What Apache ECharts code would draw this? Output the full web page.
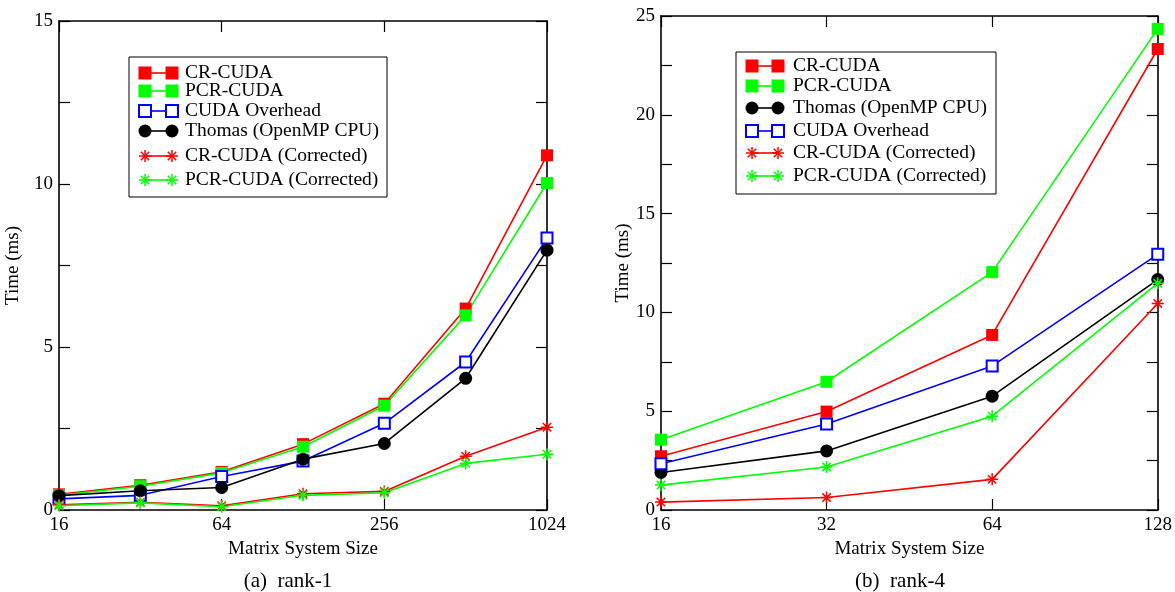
<!DOCTYPE html>
<html>
<head>
<meta charset="utf-8">
<script src="https://cdn.jsdelivr.net/npm/echarts@6/dist/echarts.min.js"></script>
<style>
  html, body { margin: 0; padding: 0; background: #fff; }
  #chart { width: 1175px; height: 592px; }
</style>
</head>
<body>
<div id="chart"></div>
<script>
// rank-1 data
var sizes1 = [16, 32, 64, 128, 256, 512, 1024];
var crCuda1 = [0.48, 0.76, 1.17, 2.02, 3.26, 6.18, 10.88];
var pcrCuda1 = [0.45, 0.73, 1.14, 1.94, 3.2, 5.97, 10.03];
var overhead1 = [0.34, 0.45, 1.03, 1.5, 2.66, 4.54, 8.34];
var thomas1 = [0.44, 0.59, 0.69, 1.56, 2.04, 4.04, 7.97];
var crCorr1 = [0.16, 0.24, 0.13, 0.5, 0.57, 1.65, 2.54];
var pcrCorr1 = [0.13, 0.22, 0.1, 0.45, 0.53, 1.43, 1.71];
var xTicks1 = [16, 64, 256, 1024];

// rank-4 data
var sizes4 = [16, 32, 64, 128];
var crCuda4 = [2.72, 4.98, 8.86, 23.33];
var pcrCuda4 = [3.56, 6.49, 12.04, 24.35];
var thomas4 = [1.9, 2.99, 5.76, 11.66];
var overhead4 = [2.34, 4.35, 7.29, 12.94];
var crCorr4 = [0.4, 0.63, 1.55, 10.45];
var pcrCorr4 = [1.26, 2.18, 4.75, 11.47];
var xTicks4 = [16, 32, 64, 128];

var FONT = '"Liberation Serif", "DejaVu Serif", serif';
var STAR = 'path://M0,-10L0,10M-10,0L10,0M-7,-7L7,7M-7,7L7,-7';

var styles = {
    cr: { color: '#ff0000', kind: 'square' },
    pcr: { color: '#00ff00', kind: 'square' },
    overhead: { color: '#0000ff', kind: 'empty' },
    thomas: { color: '#000000', kind: 'circle' },
    crCorr: { color: '#ff0000', kind: 'star' },
    pcrCorr: { color: '#00ff00', kind: 'star' }
};

function mkSeries(name, xs, ys, st, idx) {
    var s = {
        name: name,
        type: 'line',
        xAxisIndex: idx * 2,
        yAxisIndex: idx * 2,
        data: xs.map(function (x, i) { return [x, ys[i]]; }),
        lineStyle: { color: st.color, width: 1.6 },
        emphasis: { disabled: true },
        clip: false,
        animation: false
    };
    if (st.kind == 'square') {
        s.symbol = 'rect';
        s.symbolSize = 12;
        s.itemStyle = { color: st.color, borderWidth: 0 };
    } else if (st.kind == 'empty') {
        s.symbol = 'rect';
        s.symbolSize = 11;
        s.itemStyle = { color: '#fff', borderColor: st.color, borderWidth: 2 };
    } else if (st.kind == 'circle') {
        s.symbol = 'circle';
        s.symbolSize = 13;
        s.itemStyle = { color: st.color, borderWidth: 0 };
    } else {
        s.symbol = STAR;
        s.symbolSize = 12;
        s.itemStyle = { color: st.color, borderColor: st.color, borderWidth: 1.5 };
    }
    return s;
}

var axisLine = { show: true, onZero: false, lineStyle: { color: '#000', width: 1.6 } };
var tick = { show: true, inside: true, length: 11, lineStyle: { color: '#000', width: 1.2 } };

function xAxes(grid, max, ticks) {
    var base = {
        type: 'log', logBase: 2, min: 16, max: max, gridIndex: grid,
        axisLine: axisLine, splitLine: { show: false },
        axisTick: Object.assign({ customValues: ticks }, tick)
    };
    return [
        Object.assign({}, base, {
            position: 'bottom',
            name: 'Matrix System Size', nameLocation: 'middle', nameGap: 26,
            nameTextStyle: { fontFamily: FONT, fontSize: 19, color: '#000' },
            axisLabel: {
                customValues: ticks, fontFamily: FONT, fontSize: 19, color: '#000', margin: 6,
                formatter: function (v) { return String(v); }
            }
        }),
        Object.assign({}, base, { position: 'top', axisLabel: { show: false } })
    ];
}

function yAxes(grid, max, gap) {
    var base = {
        type: 'value', min: 0, max: max, interval: 5, gridIndex: grid,
        axisLine: axisLine, splitLine: { show: false }, axisTick: tick,
        minorTick: { show: true, splitNumber: 2, length: 11, lineStyle: { color: '#000', width: 1.2 } }
    };
    return [
        Object.assign({}, base, {
            position: 'left',
            name: 'Time (ms)', nameLocation: 'middle', nameGap: gap,
            nameTextStyle: { fontFamily: FONT, fontSize: 19, color: '#000' },
            axisLabel: { fontFamily: FONT, fontSize: 19, color: '#000', margin: 6 }
        }),
        Object.assign({}, base, { position: 'right', axisLabel: { show: false } })
    ];
}

// legend drawn as graphic: line with a marker at each end
function legendBox(x, y, w, h, textX, lineX1, lineX2, items) {
    var els = [{
        type: 'rect', shape: { x: x, y: y, width: w, height: h },
        style: { fill: '#fff', stroke: '#000', lineWidth: 1 }, z: 100
    }];
    items.forEach(function (it) {
        var st = it.style, cy = it.y;
        els.push({ type: 'line', shape: { x1: lineX1, y1: cy, x2: lineX2, y2: cy },
            style: { stroke: st.color, lineWidth: 1.6 }, z: 101 });
        [lineX1, lineX2].forEach(function (cx) {
            if (st.kind == 'square') {
                els.push({ type: 'rect', shape: { x: cx - 6.5, y: cy - 6.5, width: 13, height: 13 },
                    style: { fill: st.color }, z: 102 });
            } else if (st.kind == 'empty') {
                els.push({ type: 'rect', shape: { x: cx - 6, y: cy - 6, width: 12, height: 12 },
                    style: { fill: '#fff', stroke: st.color, lineWidth: 2 }, z: 102 });
            } else if (st.kind == 'circle') {
                els.push({ type: 'circle', shape: { cx: cx, cy: cy, r: 6.5 },
                    style: { fill: st.color }, z: 102 });
            } else {
                [[0, -6, 0, 6], [-6, 0, 6, 0], [-4.2, -4.2, 4.2, 4.2], [-4.2, 4.2, 4.2, -4.2]].forEach(function (d) {
                    els.push({ type: 'line', shape: { x1: cx + d[0], y1: cy + d[1], x2: cx + d[2], y2: cy + d[3] },
                        style: { stroke: st.color, lineWidth: 1.5 }, z: 102 });
                });
            }
        });
        els.push({ type: 'text', x: textX, y: cy, z: 102,
            style: { text: it.name, font: '19.5px ' + FONT, fill: '#000', verticalAlign: 'middle', align: 'left' } });
    });
    return els;
}

var chart = echarts.init(document.getElementById('chart'), null, { renderer: 'canvas' });

chart.setOption({
    animation: false,
    grid: [
        { left: 59, right: 628, top: 21, bottom: 82 },
        { left: 661, right: 16, top: 16, bottom: 82 }
    ],
    xAxis: xAxes(0, 1024, xTicks1).concat(xAxes(1, 128, xTicks4)),
    yAxis: yAxes(0, 15, 36).concat(yAxes(1, 25, 28)),
    series: [
        mkSeries('CR-CUDA', sizes1, crCuda1, styles.cr, 0),
        mkSeries('PCR-CUDA', sizes1, pcrCuda1, styles.pcr, 0),
        mkSeries('CUDA Overhead', sizes1, overhead1, styles.overhead, 0),
        mkSeries('Thomas (OpenMP CPU)', sizes1, thomas1, styles.thomas, 0),
        mkSeries('CR-CUDA (Corrected)', sizes1, crCorr1, styles.crCorr, 0),
        mkSeries('PCR-CUDA (Corrected)', sizes1, pcrCorr1, styles.pcrCorr, 0),
        mkSeries('CR-CUDA', sizes4, crCuda4, styles.cr, 1),
        mkSeries('PCR-CUDA', sizes4, pcrCuda4, styles.pcr, 1),
        mkSeries('Thomas (OpenMP CPU)', sizes4, thomas4, styles.thomas, 1),
        mkSeries('CUDA Overhead', sizes4, overhead4, styles.overhead, 1),
        mkSeries('CR-CUDA (Corrected)', sizes4, crCorr4, styles.crCorr, 1),
        mkSeries('PCR-CUDA (Corrected)', sizes4, pcrCorr4, styles.pcrCorr, 1)
    ],
    graphic: legendBox(129, 57, 258, 140, 185, 145, 172, [
        { name: 'CR-CUDA', style: styles.cr, y: 73 },
        { name: 'PCR-CUDA', style: styles.pcr, y: 91 },
        { name: 'CUDA Overhead', style: styles.overhead, y: 111 },
        { name: 'Thomas (OpenMP CPU)', style: styles.thomas, y: 131 },
        { name: 'CR-CUDA (Corrected)', style: styles.crCorr, y: 156 },
        { name: 'PCR-CUDA (Corrected)', style: styles.pcrCorr, y: 180 }
    ]).concat(legendBox(736, 52, 260, 142, 793, 752, 778, [
        { name: 'CR-CUDA', style: styles.cr, y: 66 },
        { name: 'PCR-CUDA', style: styles.pcr, y: 86 },
        { name: 'Thomas (OpenMP CPU)', style: styles.thomas, y: 108 },
        { name: 'CUDA Overhead', style: styles.overhead, y: 131 },
        { name: 'CR-CUDA (Corrected)', style: styles.crCorr, y: 153 },
        { name: 'PCR-CUDA (Corrected)', style: styles.pcrCorr, y: 176 }
    ])).concat([
        { type: 'text', x: 288, y: 581, style: { text: '(a)  rank-1', font: '21px ' + FONT, fill: '#000', align: 'center', verticalAlign: 'middle' } },
        { type: 'text', x: 900, y: 581, style: { text: '(b)  rank-4', font: '21px ' + FONT, fill: '#000', align: 'center', verticalAlign: 'middle' } }
    ])
});
</script>
</body>
</html>
